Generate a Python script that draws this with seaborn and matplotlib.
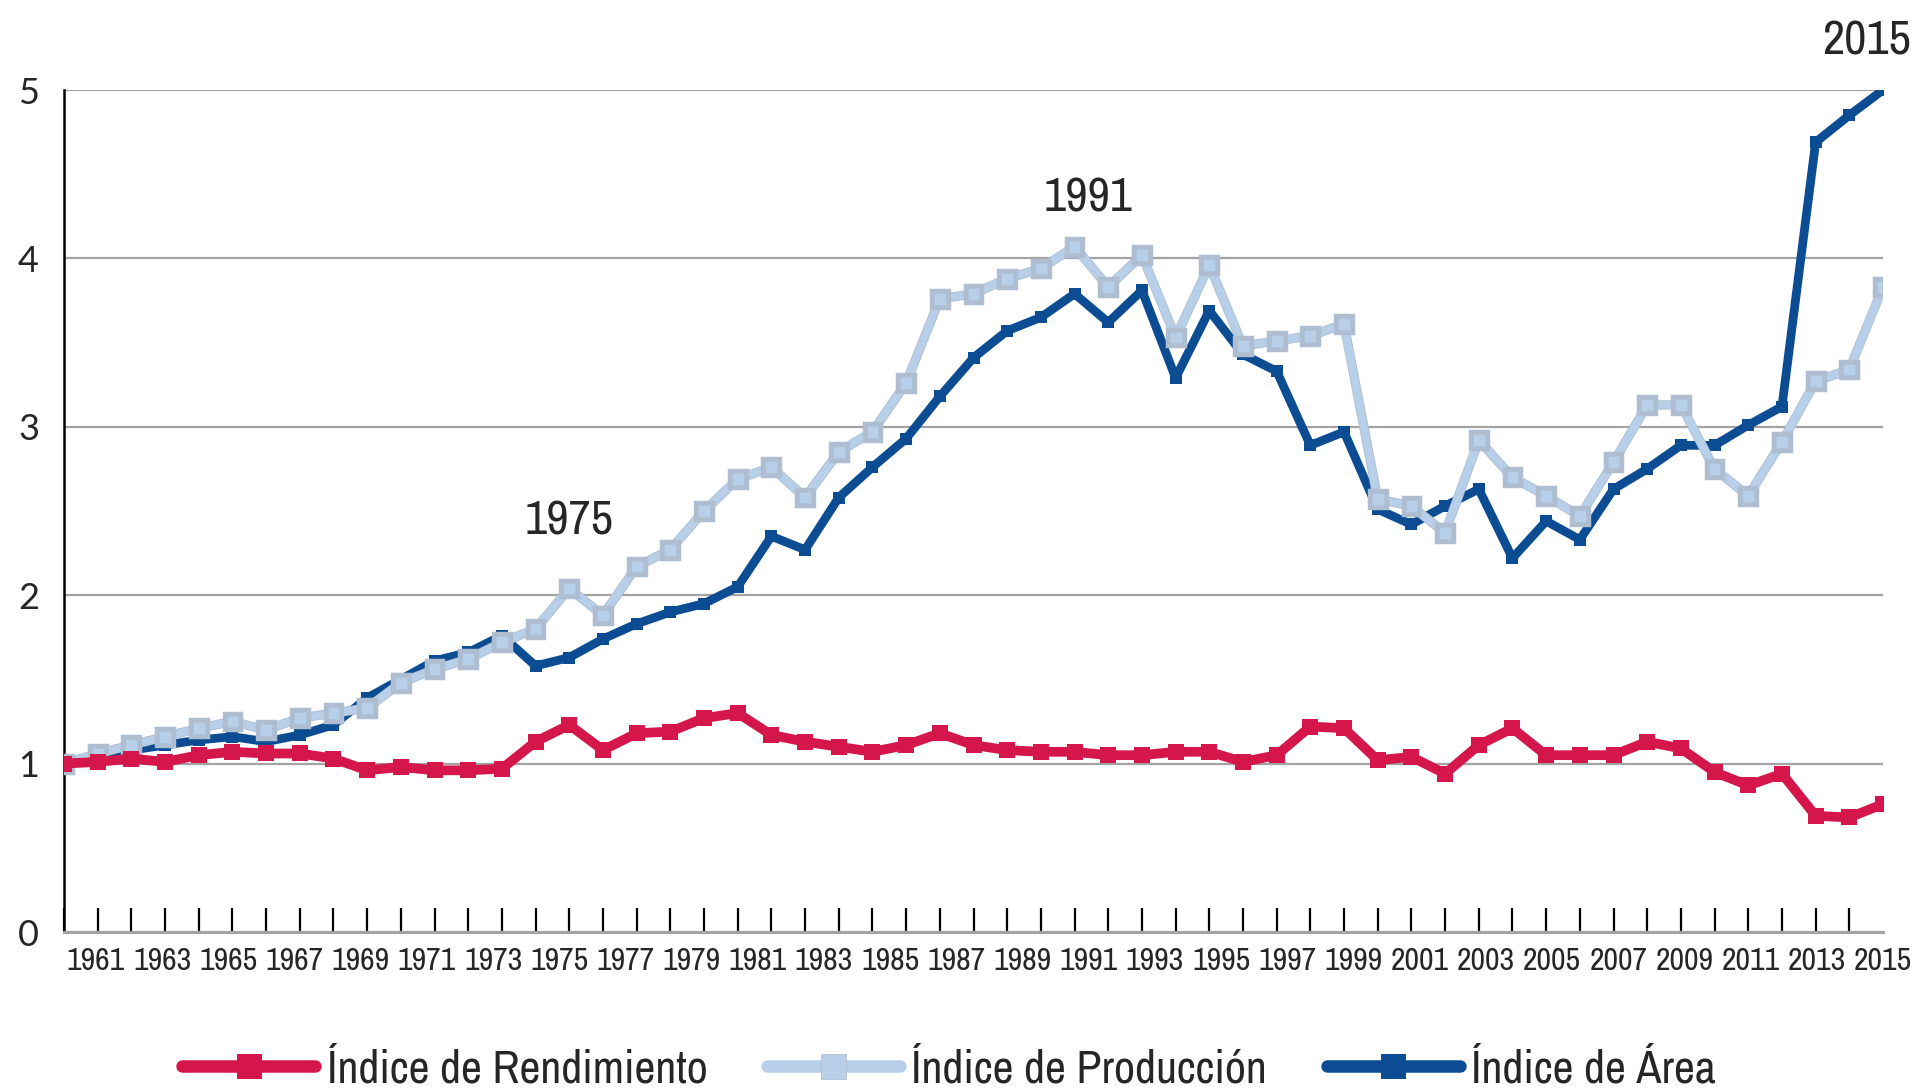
import os
import numpy as np
import pandas as pd
import matplotlib
matplotlib.use("Agg")
import matplotlib.pyplot as plt
import matplotlib.patheffects as pe
from matplotlib.lines import Line2D
from matplotlib import font_manager as fm
import seaborn as sns

# ---------------- data ----------------
years = list(range(1961, 2016))

rendimiento = [1.00, 1.01, 1.03, 1.01, 1.05, 1.07, 1.06, 1.06, 1.03, 0.96,
               0.98, 0.96, 0.96, 0.97, 1.13, 1.23, 1.08, 1.18, 1.19, 1.27,
               1.30, 1.17, 1.13, 1.10, 1.07, 1.11, 1.18, 1.11, 1.08, 1.07,
               1.07, 1.05, 1.05, 1.07, 1.07, 1.01, 1.05, 1.22, 1.21, 1.02,
               1.04, 0.94, 1.11, 1.21, 1.05, 1.05, 1.05, 1.13, 1.09, 0.95,
               0.87, 0.94, 0.69, 0.68, 0.76]

produccion = [1.00, 1.06, 1.11, 1.16, 1.21, 1.25, 1.20, 1.27, 1.30, 1.33,
              1.48, 1.56, 1.62, 1.72, 1.80, 2.04, 1.88, 2.17, 2.27, 2.50,
              2.69, 2.76, 2.58, 2.85, 2.97, 3.26, 3.76, 3.79, 3.88, 3.94,
              4.07, 3.83, 4.02, 3.53, 3.96, 3.48, 3.51, 3.54, 3.61, 2.57,
              2.53, 2.37, 2.92, 2.70, 2.59, 2.47, 2.79, 3.13, 3.13, 2.75,
              2.59, 2.91, 3.27, 3.34, 3.83]

area = [1.00, 1.04, 1.08, 1.11, 1.14, 1.16, 1.13, 1.17, 1.23, 1.39,
        1.50, 1.61, 1.66, 1.76, 1.58, 1.63, 1.74, 1.83, 1.90, 1.95,
        2.05, 2.35, 2.27, 2.58, 2.76, 2.93, 3.18, 3.41, 3.57, 3.65,
        3.79, 3.62, 3.81, 3.29, 3.69, 3.43, 3.33, 2.89, 2.97, 2.51,
        2.42, 2.53, 2.63, 2.22, 2.44, 2.33, 2.63, 2.75, 2.89, 2.89,
        3.01, 3.12, 4.69, 4.85, 5.00]

series_names = ["Índice de Rendimiento", "Índice de Producción", "Índice de Área"]
series_colors = ["#D5164B", "#B8CFEA", "#0B4C93"]

xtick_labels = [str(y) for y in range(1961, 2016, 2)]
ytick_values = [0, 1, 2, 3, 4, 5]

annot_text = ["1975", "1991", "2015"]
annot_x = [1976.0, 1991.4, 2014.5]
annot_y = [2.44, 4.36, 5.29]

# ---------------- fonts ----------------
def find_condensed():
    best = None
    for f in fm.fontManager.ttflist:
        fname = os.path.basename(f.fname).lower()
        name = f.name.lower()
        is_cond = ("narrow" in name or "condensed" in name or
                   "narrow" in fname or "condensed" in fname or
                   (isinstance(f.stretch, str) and "condensed" in f.stretch) or
                   (isinstance(f.stretch, (int, float)) and f.stretch < 500))
        if not is_cond:
            continue
        if f.style != "normal":
            continue
        w = f.weight
        if isinstance(w, str):
            w = {"normal": 400, "regular": 400, "book": 400}.get(w.lower(), 700)
        if w not in (400,):
            continue
        if "semi" in fname or "light" in fname or "bold" in fname or "oblique" in fname:
            continue
        if "narrow" in name or "narrow" in fname:
            score = 3
        elif "dejavu" in fname:
            score = 2
        else:
            score = 1
        if best is None or score > best[0]:
            best = (score, f.fname)
    return best[1] if best else None

cond_path = find_condensed()
sns.set_style("white")
plt.rcParams["font.family"] = ["DejaVu Sans"]

def cfont(size):
    if cond_path:
        return fm.FontProperties(fname=cond_path, size=size)
    return fm.FontProperties(family="DejaVu Sans", stretch="condensed", size=size)

# ---------------- figure ----------------
fig = plt.figure(figsize=(19.21, 10.88), dpi=100)
W, H = 1921, 1088
ax = fig.add_axes([64 / W, 1 - 932 / H, (1883 - 64) / W, (932 - 90) / H])

df = pd.DataFrame({"year": years, "rend": rendimiento,
                   "prod": produccion, "area": area})

sns.lineplot(data=df, x="year", y="area", ax=ax, color=series_colors[2],
             lw=6.3, marker="s", markersize=8.5, markeredgewidth=0, zorder=3)
sns.lineplot(data=df, x="year", y="prod", ax=ax, color=series_colors[1],
             lw=5.6, marker="s", markersize=8.5, markeredgewidth=0.4,
             markeredgecolor="#AFC0D4", zorder=4,
             path_effects=[pe.Stroke(linewidth=6.8, foreground="#AEBED0"), pe.Normal()])
sns.lineplot(data=df, x="year", y="rend", ax=ax, color=series_colors[0],
             lw=7.0, marker="s", markersize=11, markeredgewidth=0, zorder=5)

ax.set_xlim(years[0], years[-1])
ax.set_ylim(0, 5)
ax.set_xlabel("")
ax.set_ylabel("")

ax.set_yticks(ytick_values)
ax.set_yticklabels([str(v) for v in ytick_values])
for lab in ax.get_yticklabels():
    lab.set_fontproperties(fm.FontProperties(family=["Lato", "DejaVu Sans"], size=26))
ax.tick_params(axis="y", length=0, pad=18)

ax.yaxis.grid(True, color="#A3A3A3", lw=1.6)
ax.xaxis.grid(False)
ax.set_axisbelow(True)

ax.set_xticks(years, minor=True)
ax.tick_params(axis="x", which="minor", direction="in", length=17, width=1.6,
               color="black", bottom=True)
label_pos = np.linspace(years[0] + 0.95, years[-1], len(xtick_labels))
ax.set_xticks(label_pos)
ax.set_xticklabels(xtick_labels)
for lab in ax.get_xticklabels():
    lab.set_fontproperties(cfont(23))
ax.tick_params(axis="x", which="major", length=0, pad=11)

for s in ["top", "right"]:
    ax.spines[s].set_visible(False)
ax.spines["left"].set_color("black")
ax.spines["left"].set_linewidth(1.8)
ax.spines["bottom"].set_color("#A3A3A3")
ax.spines["bottom"].set_linewidth(2.2)

for t, x, y in zip(annot_text, annot_x, annot_y):
    ax.text(x, y, t, fontproperties=cfont(35), ha="center", va="center", clip_on=False)

handles = [
    Line2D([], [], color=series_colors[0], lw=9, marker="s", markersize=18, markeredgewidth=0),
    Line2D([], [], color=series_colors[1], lw=9, marker="s", markersize=18,
           markeredgewidth=0.6, markeredgecolor="#AFC0D4"),
    Line2D([], [], color=series_colors[2], lw=9, marker="s", markersize=18, markeredgewidth=0),
]
fig.legend(handles, series_names, loc="lower center", bbox_to_anchor=(0.494, -0.04),
           ncol=3, frameon=False, prop=cfont(33),
           handlelength=2.9, handletextpad=0.25, columnspacing=1.3, numpoints=1)

fig.savefig("out.png", dpi=100)
